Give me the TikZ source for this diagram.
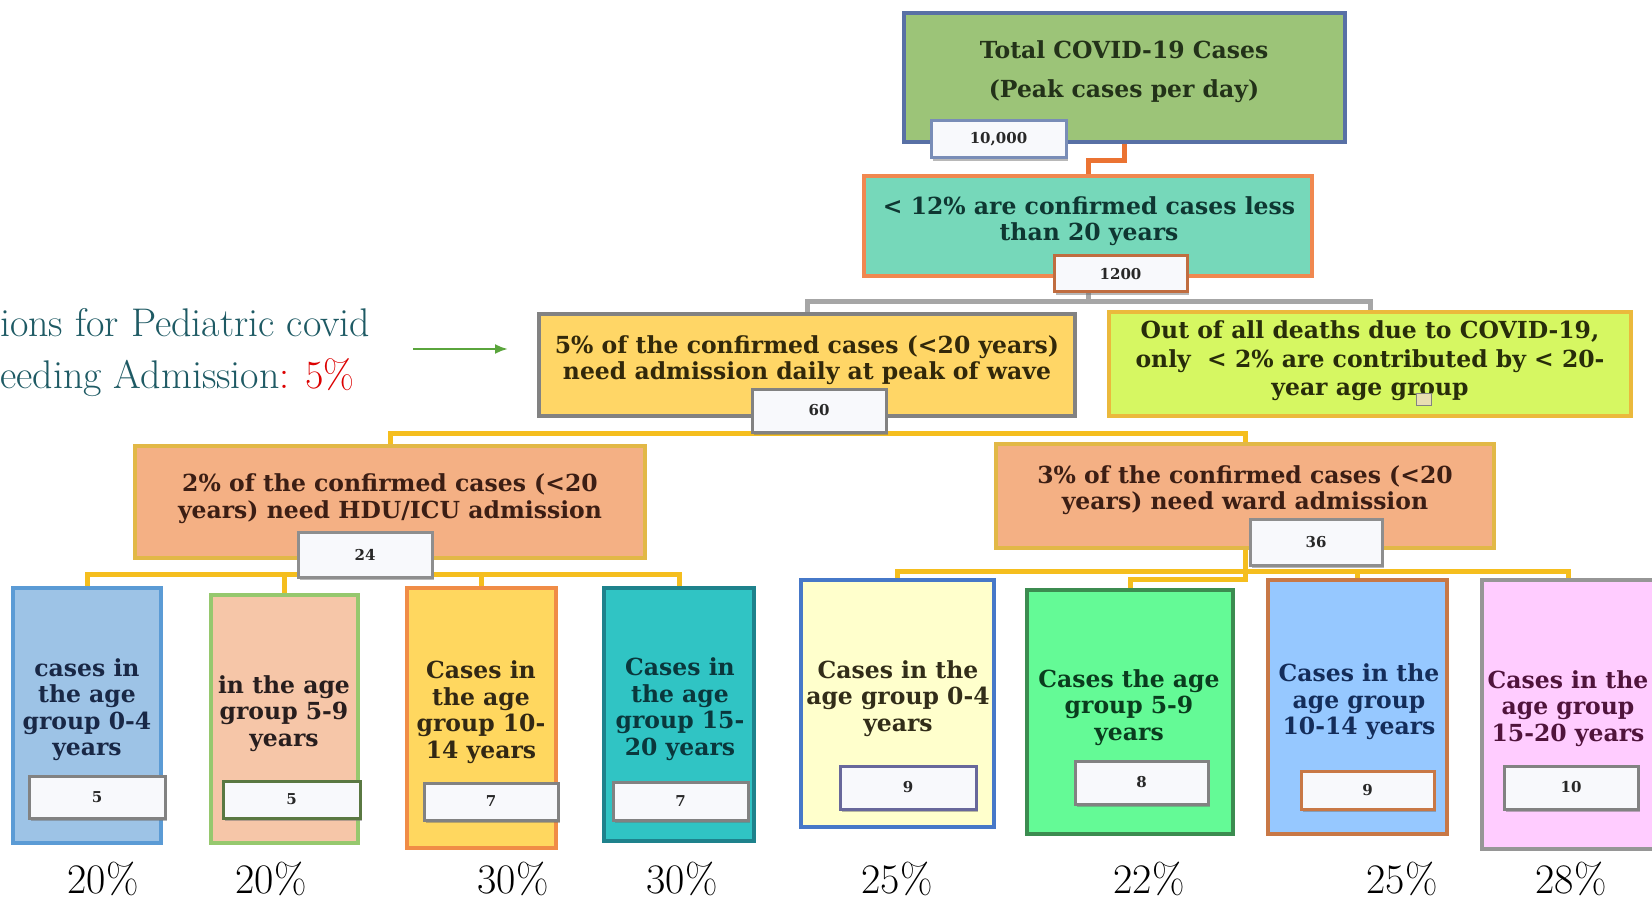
\documentclass[tikz,border=0pt]{standalone}
\usepackage{fontspec}
\newfontfamily\boxfont{DejaVu Serif}
\usetikzlibrary{shadows,arrows.meta}

% fills and borders
\definecolor{topfill}{RGB}{156,196,120}
\definecolor{topdraw}{RGB}{88,112,165}
\definecolor{tealfill}{RGB}{118,216,186}
\definecolor{orangedraw}{RGB}{240,136,80}
\definecolor{goldfill}{RGB}{255,214,102}
\definecolor{greydraw}{RGB}{130,130,130}
\definecolor{limefill}{RGB}{214,247,98}
\definecolor{limedraw}{RGB}{235,185,60}
\definecolor{salmonfill}{RGB}{244,176,132}
\definecolor{salmondraw}{RGB}{226,184,70}
\definecolor{numfill}{RGB}{248,249,252}
% connectors
\definecolor{linkgold}{RGB}{245,190,30}
\definecolor{linkgrey}{RGB}{166,166,166}
\definecolor{linkorange}{RGB}{235,115,50}
\definecolor{arrowgreen}{RGB}{90,165,60}
% age group boxes
\definecolor{bAfill}{RGB}{157,195,230}\definecolor{bAdraw}{RGB}{91,155,213}
\definecolor{bBfill}{RGB}{246,198,168}\definecolor{bBdraw}{RGB}{150,200,110}
\definecolor{bCfill}{RGB}{255,215,95}\definecolor{bCdraw}{RGB}{240,140,70}
\definecolor{bDfill}{RGB}{48,196,196}\definecolor{bDdraw}{RGB}{30,130,140}
\definecolor{bEfill}{RGB}{255,255,204}\definecolor{bEdraw}{RGB}{70,120,200}
\definecolor{bFfill}{RGB}{100,250,150}\definecolor{bFdraw}{RGB}{60,140,80}
\definecolor{bGfill}{RGB}{150,200,255}\definecolor{bGdraw}{RGB}{200,120,70}
\definecolor{bHfill}{RGB}{255,204,255}\definecolor{bHdraw}{RGB}{150,150,150}
% text colours
\definecolor{ttop}{RGB}{35,50,25}
\definecolor{tteal}{RGB}{15,55,50}
\definecolor{tgold}{RGB}{50,40,10}
\definecolor{tlime}{RGB}{40,45,10}
\definecolor{tsalmon}{RGB}{60,30,20}
\definecolor{tA}{RGB}{25,40,70}
\definecolor{tB}{RGB}{40,30,30}
\definecolor{tC}{RGB}{50,40,20}
\definecolor{tD}{RGB}{10,55,60}
\definecolor{tE}{RGB}{50,45,25}
\definecolor{tF}{RGB}{10,60,30}
\definecolor{tG}{RGB}{20,45,90}
\definecolor{tH}{RGB}{80,20,60}
\definecolor{tnum}{RGB}{40,40,40}
\definecolor{sidetext}{RGB}{30,90,100}
\definecolor{sidered}{RGB}{220,0,0}

\begin{document}
\begin{tikzpicture}[x=1pt,y=-1pt,
  box/.style={draw, rectangle, line width=3.5pt, inner sep=0pt},
  numbox/.style={draw, rectangle, line width=3pt, fill=numfill, inner sep=0pt,
    text=tnum, font=\boxfont\bfseries\fontsize{15}{17}\selectfont,
    drop shadow={shadow xshift=1.5pt, shadow yshift=-3pt, fill=black!55, opacity=.5}},
  boxtext/.style={align=center, inner sep=0pt,
    font=\boxfont\bfseries\fontsize{23.5}{26.5}\selectfont},
  link/.style={line width=5pt},
  pct/.style={anchor=base, inner sep=0pt, font=\fontsize{42}{46}\selectfont},
  side/.style={anchor=base west, inner sep=0pt, text=sidetext,
    font=\fontsize{40}{44}\selectfont}]

\fill[white] (0,0) rectangle (1652,901);
\useasboundingbox (0,0) rectangle (1652,901);

% ---------- main boxes ----------
\node[box, fill=topfill, draw=topdraw, minimum width=441pt, minimum height=129pt] (top) at (1124.5,77.5) {};
\node[box, fill=tealfill, draw=orangedraw, minimum width=448pt, minimum height=100pt] (teal) at (1088,226) {};
\node[box, fill=goldfill, draw=greydraw, minimum width=536pt, minimum height=102pt] (adm) at (807,365) {};
\node[box, fill=limefill, draw=limedraw, minimum width=522pt, minimum height=104pt] (death) at (1370,364) {};
\node[box, fill=salmonfill, draw=salmondraw, minimum width=510pt, minimum height=112pt] (hdu) at (390,502) {};
\node[box, fill=salmonfill, draw=salmondraw, minimum width=498pt, minimum height=104pt] (ward) at (1245,496) {};

% ---------- age group boxes ----------
\node[box, fill=bAfill, draw=bAdraw, minimum width=148pt, minimum height=255pt] (bA) at (87,715.5) {};
\node[box, fill=bBfill, draw=bBdraw, minimum width=147pt, minimum height=248pt] (bB) at (284.5,719) {};
\node[box, fill=bCfill, draw=bCdraw, minimum width=149pt, minimum height=260pt] (bC) at (481.5,718) {};
\node[box, fill=bDfill, draw=bDdraw, minimum width=150pt, minimum height=253pt] (bD) at (679,714.5) {};
\node[box, fill=bEfill, draw=bEdraw, minimum width=193pt, minimum height=247pt] (bE) at (897.5,703.5) {};
\node[box, fill=bFfill, draw=bFdraw, minimum width=206pt, minimum height=244pt] (bF) at (1130,712) {};
\node[box, fill=bGfill, draw=bGdraw, minimum width=179pt, minimum height=254pt] (bG) at (1357.5,707) {};
\node[box, fill=bHfill, draw=bHdraw, minimum width=172pt, minimum height=269pt] (bH) at (1568,714.5) {};

% ---------- connectors ----------
\draw[link, linkorange] (top.south) -- ++(0,17) -| (teal.north);
\draw[link, linkgrey] (teal.south) -- ++(0,24) -| (adm.north);
\draw[link, linkgrey] (teal.south) ++(0,24) -| (death.north);
\draw[link, linkgold] (adm.south) -- ++(0,16) -| (hdu.north);
\draw[link, linkgold] (adm.south) ++(0,16) -| (ward.north);
\draw[link, linkgold] (hdu.south) -- ++(0,15) -| (bA.north);
\draw[link, linkgold] (hdu.south) ++(0,15) -| (bB.north);
\draw[link, linkgold] (hdu.south) ++(0,15) -| (bC.north);
\draw[link, linkgold] (hdu.south) ++(0,15) -| (bD.north);
\draw[link, linkgold] (ward.south) -- ++(0,22) -| (bE.north);
\draw[link, linkgold] (ward.south) ++(0,22) -| (bG.north);
\draw[link, linkgold] (ward.south) ++(0,22) -| (bH.north);
\draw[link, linkgold] (ward.south) -- ++(0,30) -| (bF.north);

% ---------- value boxes ----------
\node[numbox, draw=topdraw!80, minimum width=135pt, minimum height=37pt] (nTop) at (998.5,139.5) {10,000};
\node[numbox, draw=orangedraw!80!black, minimum width=133pt, minimum height=36pt] (nTeal) at (1120.5,274) {1200};
\node[numbox, draw=greydraw, minimum width=134pt, minimum height=43pt] (nAdm) at (819,410.5) {60};
\node[numbox, draw=greydraw!90, minimum width=134pt, minimum height=45pt] (nHdu) at (365,554.5) {24};
\node[numbox, draw=greydraw!90, minimum width=132pt, minimum height=46pt] (nWard) at (1316,542) {36};
\node[numbox, draw=greydraw, minimum width=136pt, minimum height=42pt] (nA) at (97,797) {5};
\node[numbox, draw=bBdraw!60!black, minimum width=137pt, minimum height=37pt] (nB) at (291.5,799.5) {5};
\node[numbox, draw=greydraw, minimum width=134pt, minimum height=37pt] (nC) at (491,801.5) {7};
\node[numbox, draw=greydraw, minimum width=135pt, minimum height=38pt] (nD) at (680.5,801) {7};
\node[numbox, draw=greydraw!80!blue, minimum width=136pt, minimum height=43pt] (nE) at (908,787.5) {9};
\node[numbox, draw=greydraw, minimum width=133pt, minimum height=43pt] (nF) at (1141.5,782.5) {8};
\node[numbox, draw=bGdraw, minimum width=133pt, minimum height=38pt] (nG) at (1367.5,790) {9};
\node[numbox, draw=greydraw, minimum width=134pt, minimum height=43pt] (nH) at (1571,787.5) {10};

% ---------- box texts ----------
\node[boxtext, text=ttop, font=\boxfont\bfseries\fontsize{23.5}{39}\selectfont] (xTop) at (1124,72)
  {Total COVID-19 Cases\\(Peak cases per day)};
\node[boxtext, text=tteal] (xTeal) at (1089,221) {< 12\% are confirmed cases less\\than 20 years};
\node[boxtext, text=tgold] (xAdm) at (807,360) {5\% of the confirmed cases (<20 years)\\need admission daily at peak of wave};
\node[boxtext, text=tlime, font=\boxfont\bfseries\fontsize{23.5}{28.5}\selectfont] (xDeath) at (1370,361)
  {Out of all deaths due to COVID-19,\\only~ < 2\% are contributed by < 20-\\year age group};
\node[draw=greydraw, fill={rgb,255:red,232;green,222;blue,178}, line width=1pt, minimum width=15pt, minimum height=12pt, inner sep=0pt] (mark) at (1424,399) {};
\node[boxtext, text=tsalmon] (xHdu) at (390,498.5) {2\% of the confirmed cases (<20\\years) need HDU/ICU admission};
\node[boxtext, text=tsalmon] (xWard) at (1245,490) {3\% of the confirmed cases (<20\\years) need ward admission};

\node[boxtext, text=tA] (xA) at (87,709.5) {cases in\\the age\\group 0-4\\years};
\node[boxtext, text=tB] (xB) at (284,713.5) {in the age\\group 5-9\\years};
\node[boxtext, text=tC] (xC) at (481,712) {Cases in\\the age\\group 10-\\14 years};
\node[boxtext, text=tD] (xD) at (680,709) {Cases in\\the age\\group 15-\\20 years};
\node[boxtext, text=tE] (xE) at (898,698.5) {Cases in the\\age group 0-4\\years};
\node[boxtext, text=tF] (xF) at (1129,707.5) {Cases the age\\group 5-9\\years};
\node[boxtext, text=tG] (xG) at (1359,702) {Cases in the\\age group\\10-14 years};
\node[boxtext, text=tH] (xH) at (1568,708.5) {Cases in the\\age group\\15-20 years};

% ---------- shares ----------
\node[pct] (pA) at (103,893) {20\%};
\node[pct] (pB) at (271,893) {20\%};
\node[pct] (pC) at (513,893) {30\%};
\node[pct] (pD) at (682,893) {30\%};
\node[pct] (pE) at (897,893) {25\%};
\node[pct] (pF) at (1149,893) {22\%};
\node[pct] (pG) at (1402,893) {25\%};
\node[pct] (pH) at (1571,893) {28\%};

% ---------- side note ----------
\node[side] (sideA) at (0,337) {ions for Pediatric covid};
\node[side] (sideB) at (0,388) {eeding Admission\textcolor{sidered}{: 5\%}};
\coordinate (atail) at (413,349);
\coordinate (ahead) at (508,349);
\draw[arrowgreen, line width=2.5pt, -{Latex[length=13pt,width=10pt]}] (atail) -- (ahead);

\end{tikzpicture}
\end{document}
